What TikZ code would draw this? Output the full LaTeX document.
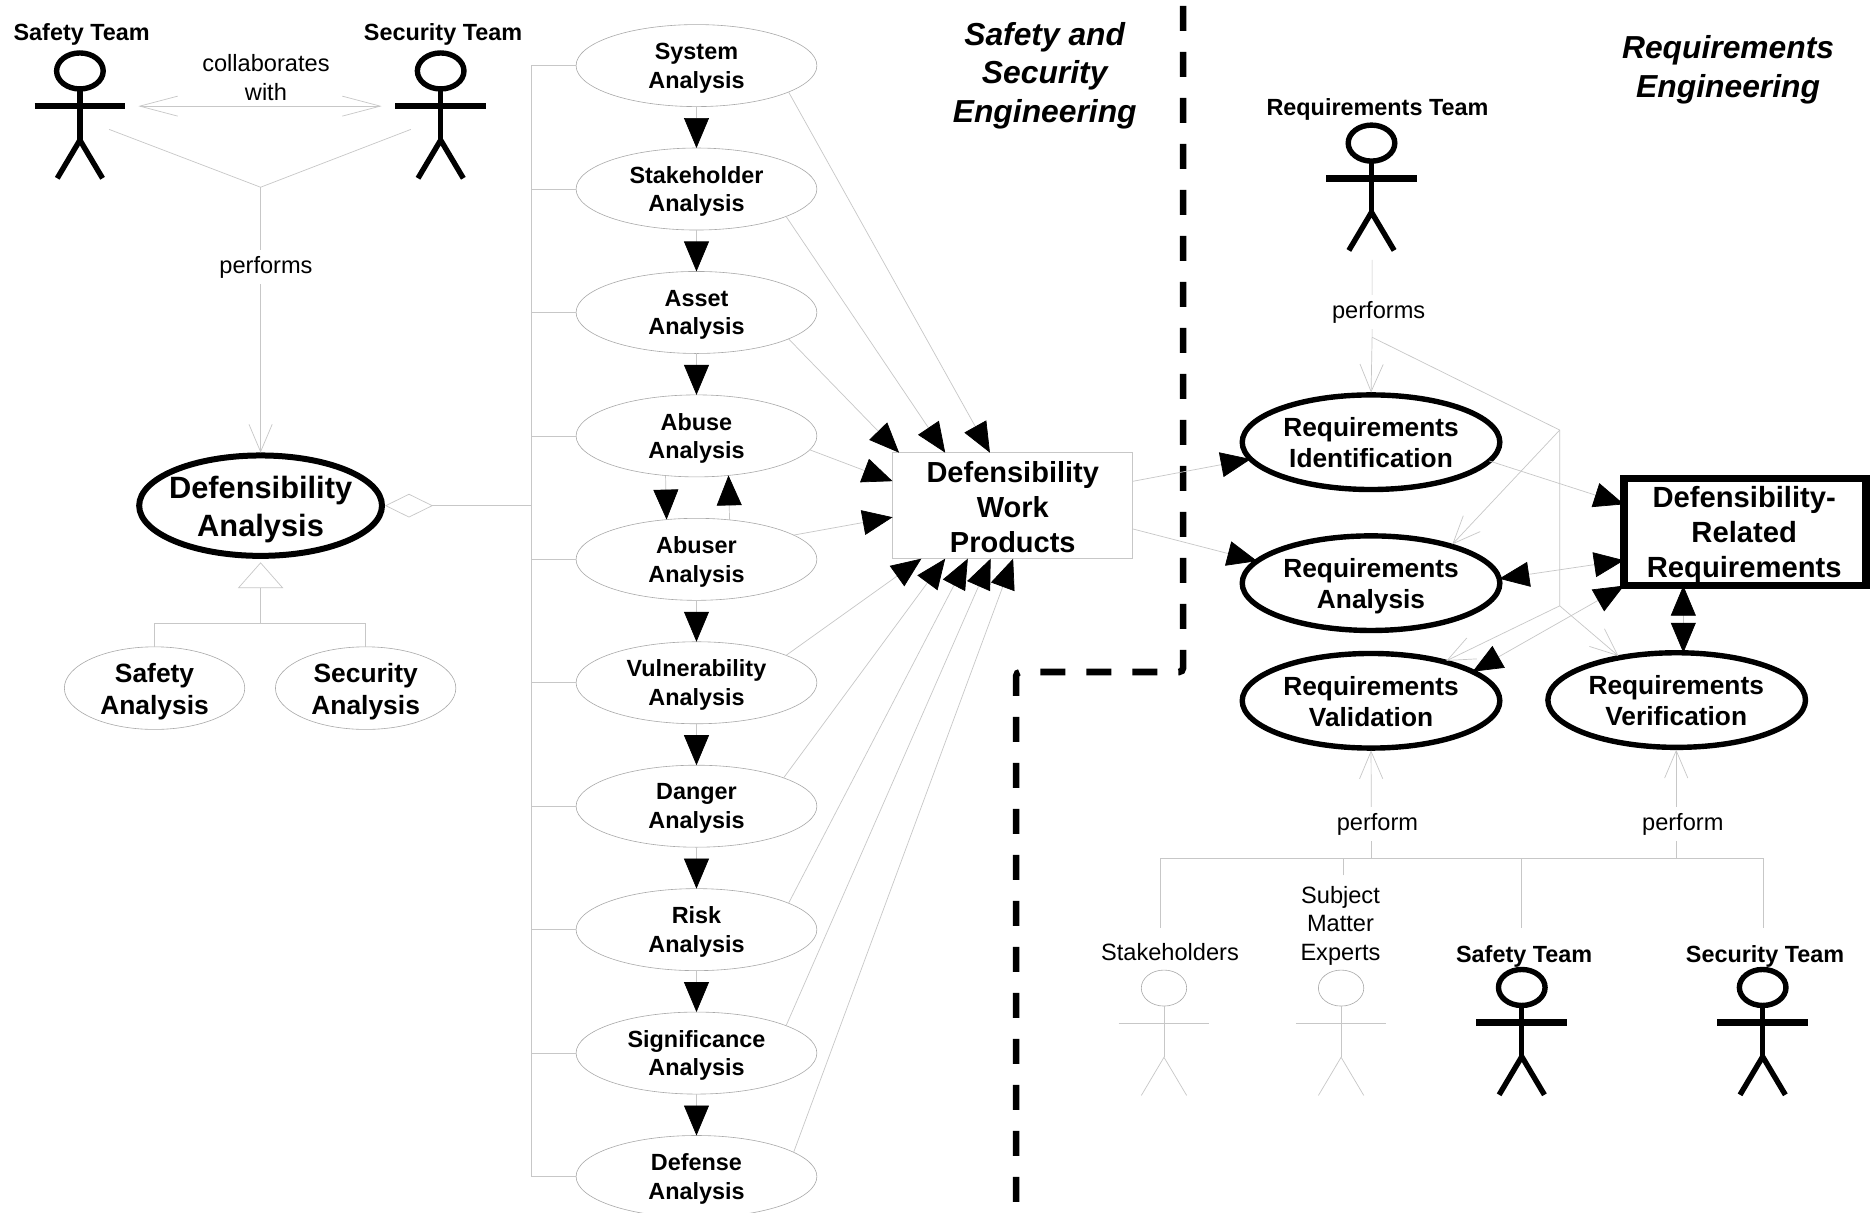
\documentclass[tikz,border=0pt]{standalone}
\usepackage{fontspec}
\setmainfont{Liberation Sans}
\usetikzlibrary{arrows.meta,calc,shapes.geometric}
\definecolor{lineG}{gray}{0.78}
\newcommand\fs[2]{\fontsize{#1}{#2}\selectfont}
\tikzset{
  conn/.style={draw=lineG,line width=.35pt},
  thinell/.style={ellipse,draw=lineG!85!black,line width=.3pt,inner sep=0pt,outer sep=0pt},
  colell/.style={thinell,minimum width=120.4pt,minimum height=41pt},
  sidell/.style={thinell,minimum width=90.2pt,minimum height=41.3pt},
  reqell/.style={ellipse,draw=black,line width=2.7pt,inner sep=0pt,outer sep=0pt,minimum width=128.8pt,minimum height=47.3pt},
  mainell/.style={ellipse,draw=black,line width=3pt,inner sep=0pt,outer sep=0pt,minimum width=121.4pt,minimum height=50.2pt},
  wpbox/.style={rectangle,draw=lineG,line width=.5pt,inner sep=0pt,outer sep=0pt,minimum width=120.2pt,minimum height=53pt},
  drrbox/.style={rectangle,draw=black,line width=3.6pt,inner sep=0pt,outer sep=0pt,minimum width=121pt,minimum height=53.5pt},
  coltxt/.style={align=center,inner sep=0pt,yshift=-1.2pt,font=\bfseries\fs{11.7}{14.3}},
  sidetxt/.style={align=center,inner sep=0pt,yshift=-1.8pt,font=\bfseries\fs{13.2}{16}},
  maintxt/.style={align=center,inner sep=0pt,yshift=-2pt,font=\bfseries\fs{15.4}{19}},
  wptxt/.style={align=center,inner sep=0pt,yshift=-.6pt,font=\bfseries\fs{14.5}{17.6}},
  reqtxt/.style={align=center,inner sep=0pt,font=\bfseries\fs{13.15}{15.6}},
  drrtxt/.style={align=center,inner sep=0pt,font=\bfseries\fs{14.6}{17.5}},
  titletxt/.style={align=center,inner sep=0pt,yshift=-1.5pt,font=\bfseries\itshape\fs{15.9}{19.3}},
  teamtxt/.style={align=center,inner sep=0pt,yshift=-1.2pt,font=\bfseries\fs{11.7}{14.3}},
  plaintxt/.style={align=center,inner sep=0pt,font=\fs{11.8}{14.2}},
  edgetxt/.style={plaintxt,fill=white,inner xsep=1pt,inner ysep=3pt,yshift=-1.2pt},
  bigarrow/.style={conn,-{Triangle[length=15pt,width=12.5pt,black]}},
  bigboth/.style={conn,{Triangle[length=15pt,width=12.5pt,black]}-{Triangle[length=15pt,width=12.5pt,black]}},
  openarrow/.style={conn,-{Straight Barb[length=13.7pt,width=11.6pt,lineG]}},
  longboth/.style={conn,{Straight Barb[length=19pt,width=10pt,lineG]}-{Straight Barb[length=19pt,width=10pt,lineG]}},
  boundary/.style={draw=black,line width=3.3pt,dash pattern=on 12.5pt off 10.5pt,rounded corners=2pt},
  headthick/.style={ellipse,draw=black,line width=2.7pt,inner sep=0pt,outer sep=0pt,minimum width=23.3pt,minimum height=18pt},
  headthin/.style={ellipse,draw=lineG!85!black,line width=.3pt,inner sep=0pt,outer sep=0pt,minimum width=22.7pt,minimum height=18pt},
  armthick/.style={draw=black,line width=3.3pt},
  armthin/.style={draw=lineG,line width=.35pt},
  limbthick/.style={draw=black,line width=2.7pt,line join=miter},
  limbthin/.style={draw=lineG,line width=.35pt},
}
% name, position, thick|thin
\newcommand\actorfig[3]{%
  \begin{scope}[shift={(#2)}]
    \node[head#3] (#1) at (0,0) {};
    \coordinate (#1-hip) at (0,58);
    \coordinate (#1-la) at (-38,29.5);
    \coordinate (#1-ra) at (38,29.5);
    \coordinate (#1-ll) at (-19,90);
    \coordinate (#1-rl) at (19,90);
    \path[arm#3] (#1-la) -- (#1-ra);
    \path[limb#3] (#1.south) -- (#1-hip);
    \path[limb#3] (#1-ll) -- (#1-hip) -- (#1-rl);
  \end{scope}}
% style, name, position, text style, text
\newcommand\shapenode[5]{%
  \node[#1] (#2) at (#3) {};
  \node[#4] (#2-t) at (#2) {#5};}
\begin{document}
\begin{tikzpicture}[x=0.5963pt,y=-0.5963pt]
\path[use as bounding box,fill=white] (0,0) rectangle (1568,1016.3);

% --- column of analyses
\shapenode{colell}{sys}{584,55}{coltxt}{System\\Analysis}
\shapenode{colell}{stk}{584,158.5}{coltxt}{Stakeholder\\Analysis}
\shapenode{colell}{ast}{584,262}{coltxt}{Asset\\Analysis}
\shapenode{colell}{abu}{584,365.5}{coltxt}{Abuse\\Analysis}
\shapenode{colell}{abr}{584,469}{coltxt}{Abuser\\Analysis}
\shapenode{colell}{vul}{584,572.5}{coltxt}{Vulnerability\\Analysis}
\shapenode{colell}{dan}{584,676}{coltxt}{Danger\\Analysis}
\shapenode{colell}{rsk}{584,779.5}{coltxt}{Risk\\Analysis}
\shapenode{colell}{sig}{584,883}{coltxt}{Significance\\Analysis}
\shapenode{colell}{dfs}{584,986.5}{coltxt}{Defense\\Analysis}

% --- left part
\shapenode{mainell}{da}{218.5,424}{maintxt}{Defensibility\\Analysis}
\shapenode{sidell}{saf}{129.6,577}{sidetxt}{Safety\\Analysis}
\shapenode{sidell}{sec}{306.6,577}{sidetxt}{Security\\Analysis}
\actorfig{stA}{67,59.5}{thick}
\actorfig{scA}{369.5,59.5}{thick}
\node[teamtxt] (stAl) at (68.5,27) {Safety Team};
\node[teamtxt] (scAl) at (371.5,27) {Security Team};

% --- work products
\shapenode{wpbox}{dwp}{849.2,424}{wptxt}{Defensibility\\Work\\Products}

% --- right part
\node[reqell] (rid) at (1149.6,370.8) {};
\node[reqtxt] (rid-t) at (1149.6,371) {Requirements\\Identification};
\node[reqell] (ran) at (1149.6,489) {};
\node[reqtxt] (ran-t) at (1149.6,491.5) {Requirements\\Analysis};
\node[reqell] (rva) at (1149.6,587.6) {};
\node[reqtxt] (rva-t) at (1149.6,588.3) {Requirements\\Validation};
\node[reqell] (rve) at (1405.9,587) {};
\node[reqtxt] (rve-t) at (1405.5,587.5) {Requirements\\Verification};
\node[drrbox] (drr) at (1463.2,446.2) {};
\actorfig{rtA}{1150,120}{thick}
\node[teamtxt] (rtAl) at (1155,90) {Requirements Team};
\actorfig{shA}{976,828.5}{thin}
\actorfig{smA}{1124.5,828.5}{thin}
\actorfig{sfA}{1276,828}{thick}
\actorfig{seA}{1478,828}{thick}
\node[plaintxt] (shAl) at (981,798) {Stakeholders};
\node[plaintxt] (smAl) at (1124,776.3) {Subject\\Matter\\Experts};
\node[teamtxt] (sfAl) at (1278,800) {Safety Team};
\node[teamtxt] (seAl) at (1480,800) {Security Team};

% --- titles and boundary
\node[titletxt] (tsse) at (876,61) {Safety and\\Security\\Engineering};
\node[titletxt] (treq) at (1449,56) {Requirements\\Engineering};
\coordinate (b1) at (992,5);
\coordinate (b2) at (992,563.5);
\coordinate (b3) at (852,563.5);
\coordinate (b4) at (852,1020);
\path[boundary] (b1) -- (b2) -- (b3) -- (b4);

% --- collaborates / performs (left)
\coordinate (colL) at (116,89);
\coordinate (colR) at (320,89);
\path[longboth] (colL) -- (colR);
\node[plaintxt] (colT) at (223,65) {collaborates\\with};
\coordinate (pL) at (91.5,108.5);
\coordinate (pR) at (344.5,108.5);
\coordinate (jL) at (218.5,157);
\path[conn] (pL) -- (jL) -- (pR);
\path[openarrow,shorten >=1.4pt] (jL) -- (da.north);
\node[edgetxt] (perfL) at (223,222) {performs};

% --- aggregation bar
\coordinate (bar) at (445.6,424);
\path[conn] (sys.west -| bar) -- (dfs.west -| bar);
\foreach \n in {sys,stk,ast,abu,abr,vul,dan,rsk,sig,dfs}{\path[conn] (\n.west) -- (\n.west -| bar);}
\path[conn,shorten >=1.5pt,-{Diamond[open,fill=white,length=24pt,width=11.8pt,lineG]}] (bar) -- (da.east);

% --- generalisation
\coordinate (gbase) at (218.5,522.6);
\coordinate (gtip) at (218.5,471.5);
\path[conn] (saf.north) |- (gbase) -| (sec.north);
\path[conn,-{Triangle[open,fill=white,length=12.9pt,width=22.7pt,lineG]}] (gbase) -- (gtip);

% --- sequence in the column
\path[bigarrow] (sys.south) -- (stk.north);
\path[bigarrow] (stk.south) -- (ast.north);
\path[bigarrow] (ast.south) -- (abu.north);
\path[bigarrow] (abu.232.6) -- (abr.127.4);
\path[bigarrow] (abr.50.8) -- (abu.309.2);
\path[bigarrow] (abr.south) -- (vul.north);
\path[bigarrow] (vul.south) -- (dan.north);
\path[bigarrow] (dan.south) -- (rsk.north);
\path[bigarrow] (rsk.south) -- (sig.north);
\path[bigarrow] (sig.south) -- (dfs.north);

% --- analyses to work products
\path[bigarrow] (sys.-16.8) -- ($(dwp.north west)!.405!(dwp.north east)$);
\path[bigarrow] (stk.-17.5) -- ($(dwp.north west)!.219!(dwp.north east)$);
\path[bigarrow] (ast.-16) -- ($(dwp.north west)!.027!(dwp.north east)$);
\path[bigarrow] (abu.-7) -- ($(dwp.north west)!.269!(dwp.south west)$);
\path[bigarrow] (abr.14.9) -- ($(dwp.north west)!.609!(dwp.south west)$);
\path[bigarrow] (vul.17.5) -- ($(dwp.south west)!.12!(dwp.south east)$);
\path[bigarrow] (dan.18.9) -- ($(dwp.south west)!.219!(dwp.south east)$);
\path[bigarrow] (rsk.16) -- ($(dwp.south west)!.313!(dwp.south east)$);
\path[bigarrow] (sig.17) -- ($(dwp.south west)!.408!(dwp.south east)$);
\path[bigarrow] (dfs.14) -- ($(dwp.south west)!.5015!(dwp.south east)$);

% --- work products to requirements
\path[bigarrow] ($(dwp.north east)!.27!(dwp.south east)$) -- (rid.188);
\path[bigarrow] ($(dwp.north east)!.72!(dwp.south east)$) -- (ran.169.4);
\path[bigarrow] (rid.-9.7) -- ($(drr.north west)!.24!(drr.south west)$);
\path[bigboth] (ran.2) -- ($(drr.north west)!.763!(drr.south west)$);
\path[bigboth] (rva.16.3) -- (drr.south west);
\coordinate (vx) at ($(drr.south west)!.245!(drr.south east)$);
\path[bigboth] (rve.north -| vx) -- (vx);

% --- requirements team performs
\coordinate (rtP) at (1150.5,218);
\coordinate (jR) at (1150.5,282.8);
\coordinate (jR1) at (1307.8,360.6);
\coordinate (jR2) at (1307.8,508);
\path[conn] (rtP) -- (jR) -- (jR1) -- (jR2);
\path[openarrow,shorten >=1.2pt] (jR) -- (rid.north);
\path[openarrow,shorten >=1.2pt] (jR1) -- (ran.25.9);
\path[openarrow,shorten >=1.2pt] (jR2) -- (rva.28.8);
\path[openarrow,shorten >=1.2pt] (jR2) -- (rve.143);
\node[edgetxt] (perfR) at (1156,260) {performs};

% --- stakeholders perform
\coordinate (h1) at (973,719.8);
\coordinate (h2) at (1478.5,719.8);
\coordinate (pv1) at (1150,719.8);
\coordinate (pv2) at (1405.5,719.8);
\coordinate (shT) at (973,778);
\coordinate (smT) at (1126,734);
\coordinate (sfT) at (1275.5,778);
\coordinate (seT) at (1478.5,778);
\path[conn] (shT) -- (h1) -- (h2) -- (seT);
\path[conn] (smT) -- (smT |- h1);
\path[conn] (sfT) -- (sfT |- h1);
\path[openarrow,shorten >=1.2pt] (pv1) -- (rva.south);
\path[openarrow,shorten >=1.2pt] (pv2) -- (rve.south -| pv2);
\node[edgetxt] (pf1) at (1155,689) {perform};
\node[edgetxt] (pf2) at (1411,689) {perform};

% --- text of the requirements box, over its frame
\node[drrtxt] (drr-t) at (1462.5,448.8) {Defensibility-\\Related\\Requirements};
\end{tikzpicture}
\end{document}
